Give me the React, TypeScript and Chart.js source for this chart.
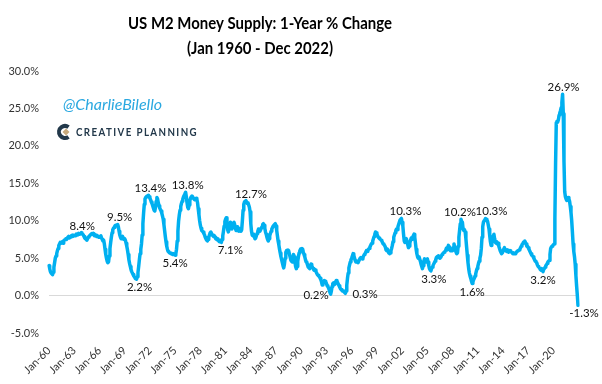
import React, { useEffect, useRef } from 'react';
import { Chart, registerables } from 'chart.js';

Chart.register(...registerables);

// ---------------- DATA ----------------
const startYear = 1960;
const monthNames = ['Jan', 'Feb', 'Mar', 'Apr', 'May', 'Jun', 'Jul', 'Aug', 'Sep', 'Oct', 'Nov', 'Dec'];

// US M2 money supply, 1-year % change, monthly
const m2_1960s = [
  4.0, 3.6, 3.2, 3.0, 2.9, 2.8, 3.1, 3.8, 4.4, 5.0, 5.3, 5.6,
  6.0, 6.3, 6.7, 6.9, 7.1, 7.0, 7.1, 7.2, 7.0, 7.3, 7.4, 7.5,
  7.6, 7.5, 7.7, 7.8, 7.9, 7.7, 7.8, 7.9, 8.0, 7.9, 8.1, 8.0,
  8.0, 8.1, 8.0, 8.2, 8.1, 8.2, 8.3, 8.2, 8.3, 8.3, 8.4, 8.3,
  8.2, 8.1, 7.9, 7.7, 7.6, 7.5, 7.4, 7.6, 7.8, 7.9, 8.0, 8.1,
  8.2, 8.3, 8.2, 8.3, 8.1, 8.0, 8.1, 8.0, 7.9, 8.0, 7.9, 7.8,
  7.8, 7.9, 8.0, 7.7, 7.5, 7.3, 7.4, 6.9, 6.2, 5.5, 5.0, 4.6,
  4.4, 4.5, 5.3, 6.3, 7.1, 7.8, 8.4, 8.8, 9.0, 9.1, 9.3, 9.4,
  9.4, 9.4, 9.5, 9.2, 8.6, 8.1, 7.8, 7.6, 7.7, 7.9, 7.6, 7.5,
  7.6, 7.4, 7.0, 6.6, 6.1, 5.5, 4.8, 4.3, 3.9, 3.5, 3.2, 3.0,
];
const m2_1970s = [
  2.8, 2.6, 2.5, 2.3, 2.3, 2.2, 2.5, 3.1, 3.9, 4.8, 5.6, 6.2,
  6.9, 8.1, 9.6, 11.0, 12.2, 12.9, 13.1, 13.2, 13.3, 13.2, 13.4, 13.2,
  13.0, 12.8, 12.5, 12.3, 12.0, 11.7, 11.4, 11.3, 11.8, 12.6, 13.1, 12.9,
  12.4, 12.0, 11.7, 11.5, 11.3, 11.0, 10.6, 10.2, 9.5, 8.7, 7.9, 7.2,
  6.6, 6.2, 5.9, 5.8, 5.7, 5.7, 5.6, 5.6, 5.5, 5.6, 5.5, 5.5,
  5.4, 5.6, 6.2, 7.3, 8.6, 10.0, 10.8, 11.4, 11.9, 12.3, 12.6, 12.9,
  13.2, 13.4, 13.6, 13.8, 13.2, 12.4, 11.8, 11.6, 12.1, 12.7, 13.0, 13.2,
  13.3, 13.2, 13.0, 12.9, 12.8, 12.9, 13.0, 12.9, 12.4, 11.6, 10.8, 10.0,
  9.4, 9.0, 8.7, 8.6, 8.5, 8.3, 8.1, 7.8, 7.6, 7.4, 7.3, 7.5,
  7.8, 8.1, 8.4, 8.5, 8.3, 8.1, 8.0, 7.9, 8.0, 7.8, 7.6, 7.5,
];
const m2_1980s = [
  7.6, 7.4, 7.3, 7.2, 7.4, 7.2, 7.1, 7.5, 8.0, 8.6, 9.3, 9.9,
  10.2, 10.4, 9.6, 8.8, 8.5, 8.9, 9.4, 9.8, 9.4, 8.9, 9.2, 9.6,
  9.8, 9.5, 9.0, 8.7, 8.8, 9.2, 9.0, 8.6, 8.8, 8.9, 8.6, 8.8,
  10.0, 11.4, 12.2, 12.5, 12.6, 12.7, 12.5, 12.3, 12.4, 12.1, 11.8, 11.2,
  9.6, 8.6, 8.1, 8.0, 8.2, 7.9, 7.6, 7.7, 8.0, 8.3, 8.6, 8.9,
  8.7, 8.6, 8.8, 9.0, 9.2, 9.5, 9.6, 9.4, 9.0, 8.5, 8.2, 7.8,
  7.5, 7.3, 7.6, 8.0, 8.3, 8.6, 8.9, 9.1, 9.3, 9.4, 9.5, 9.6,
  9.3, 8.7, 8.0, 7.3, 6.8, 6.2, 5.7, 5.2, 4.8, 4.4, 4.0, 3.7,
  4.2, 5.0, 5.8, 6.0, 5.9, 6.1, 6.0, 5.6, 5.2, 4.8, 4.6, 4.5,
  4.9, 5.5, 5.2, 4.5, 3.9, 3.6, 3.9, 4.6, 5.2, 5.7, 6.0, 6.2,
];
const m2_1990s = [
  6.0, 6.3, 6.2, 5.8, 5.5, 5.2, 4.8, 4.5, 4.4, 4.1, 3.8, 3.7,
  3.6, 3.9, 4.2, 4.0, 3.8, 3.6, 3.4, 3.5, 3.4, 3.2, 3.0, 2.8,
  2.7, 2.6, 2.5, 2.3, 2.1, 1.8, 1.4, 1.6, 1.8, 2.0, 1.9, 1.8,
  1.6, 1.3, 1.2, 1.0, 0.7, 0.4, 0.2, 0.6, 1.2, 1.6, 1.7, 1.6,
  1.5, 1.8, 2.0, 1.9, 1.7, 1.5, 1.3, 1.1, 0.9, 0.8, 0.7, 0.6,
  0.6, 0.5, 0.4, 0.3, 0.6, 1.4, 2.3, 3.0, 3.7, 4.1, 4.5, 4.8,
  5.0, 5.3, 5.6, 5.4, 5.0, 4.7, 4.5, 4.6, 4.5, 4.4, 4.6, 4.8,
  5.0, 5.1, 5.0, 4.9, 5.1, 5.3, 5.5, 5.6, 5.8, 6.0, 5.9, 6.0,
  6.2, 6.3, 6.5, 6.7, 6.9, 7.0, 7.3, 7.6, 7.9, 8.2, 8.5, 8.4,
  8.2, 8.0, 7.8, 7.7, 7.6, 7.5, 7.4, 7.3, 7.1, 6.9, 6.8, 6.7,
];
const m2_2000s = [
  6.5, 6.1, 6.0, 6.2, 5.9, 5.7, 5.6, 5.7, 6.0, 6.3, 6.7, 7.2,
  7.8, 8.1, 8.4, 8.7, 8.9, 8.8, 9.2, 9.5, 9.8, 10.1, 10.2, 10.3,
  9.8, 9.3, 8.2, 7.3, 7.1, 7.5, 7.6, 7.2, 6.8, 6.4, 6.6, 7.0,
  7.4, 7.7, 7.5, 7.8, 8.0, 8.2, 7.8, 7.0, 6.2, 5.6, 5.2, 5.0,
  5.2, 4.9, 4.6, 4.2, 3.9, 3.6, 4.0, 4.6, 4.9, 4.7, 4.5, 4.8,
  4.9, 4.5, 4.0, 3.6, 3.4, 3.3, 3.6, 3.8, 4.0, 4.2, 4.4, 4.6,
  4.8, 5.1, 5.2, 5.1, 5.3, 5.2, 5.0, 5.1, 5.3, 5.5, 5.6, 5.7,
  5.8, 5.9, 6.0, 6.3, 6.1, 6.4, 6.7, 6.5, 6.2, 6.0, 6.1, 6.0,
  6.0, 6.4, 6.9, 6.5, 6.1, 5.8, 5.6, 5.7, 6.6, 7.8, 8.7, 9.6,
  10.2, 9.9, 9.8, 8.9, 8.7, 8.8, 8.5, 7.6, 6.5, 5.4, 4.4, 3.6,
];
const m2_2010s = [
  3.0, 2.6, 2.3, 1.9, 1.6, 1.8, 2.1, 2.3, 2.6, 2.9, 3.3, 3.6,
  3.9, 4.3, 4.6, 5.0, 5.4, 6.3, 7.8, 9.2, 9.8, 10.0, 10.1, 10.3,
  10.2, 10.1, 9.9, 9.4, 8.9, 8.0, 7.2, 6.7, 7.0, 7.6, 8.0, 8.2,
  7.6, 7.1, 7.0, 7.2, 6.9, 7.0, 6.6, 6.3, 6.0, 5.8, 5.6, 5.7,
  6.0, 6.2, 6.4, 6.1, 6.0, 5.9, 6.1, 6.0, 5.8, 5.9, 6.0, 5.9,
  5.8, 5.7, 5.6, 5.7, 5.6, 5.7, 5.6, 5.8, 5.9, 5.9, 6.0, 6.1,
  6.2, 6.4, 6.6, 6.8, 6.9, 7.1, 7.2, 7.3, 7.1, 6.9, 6.6, 6.6,
  6.4, 6.2, 6.0, 5.8, 5.6, 5.4, 5.3, 5.2, 5.0, 4.8, 4.6, 4.5,
  4.4, 4.1, 3.9, 3.8, 3.7, 3.5, 3.4, 3.6, 3.4, 3.2, 3.5, 3.6,
  3.8, 4.0, 4.1, 4.3, 4.5, 4.6, 4.7, 5.5, 6.3, 6.5, 6.6, 6.7,
];
const m2_2020s = [
  6.8, 6.9, 10.3, 17.6, 23.1, 23.3, 23.2, 23.5, 24.1, 24.4, 24.7, 25.1,
  25.8, 26.9, 24.3, 17.9, 13.9, 13.2, 12.9, 12.7, 12.9, 13.1, 12.9, 12.6,
  11.9, 11.1, 10.0, 8.5, 6.9, 5.9, 5.2, 4.2, 2.7, 1.3, 0.1, -1.3,
];

const tickLabels = [
  'Jan-60', 'Jan-63', 'Jan-66', 'Jan-69', 'Jan-72', 'Jan-75', 'Jan-78', 'Jan-81',
  'Jan-84', 'Jan-87', 'Jan-90', 'Jan-93', 'Jan-96', 'Jan-99', 'Jan-02', 'Jan-05',
  'Jan-08', 'Jan-11', 'Jan-14', 'Jan-17', 'Jan-20',
];

// months (index from Jan 1960) carrying a value label
const labelledMonths = [46, 98, 125, 142, 180, 195, 246, 281, 402, 423, 503, 545, 588, 604, 623, 705, 733, 755];

const titleLines = ['US M2 Money Supply: 1-Year % Change', '(Jan 1960 - Dec 2022)'];
const handleText = '@CharlieBilello';
const logoText = 'CREATIVE PLANNING';

// ---------------- DERIVED ----------------
const values: number[] = [
  ...m2_1960s, ...m2_1970s, ...m2_1980s, ...m2_1990s, ...m2_2000s, ...m2_2010s, ...m2_2020s,
];
const labels: string[] = values.map((_, i) => {
  const y = startYear + Math.floor(i / 12);
  return monthNames[i % 12] + '-' + String(y % 100).padStart(2, '0');
});

// ---------------- STYLE ----------------
const FONT = 'Lato, "Open Sans", sans-serif';
const LINE_COLOR = '#00B0F0';
// placement of each value label (same order as labelledMonths)
const labelPlacement: { side: 'above' | 'below' | 'left' | 'right'; dx: number }[] = [
  { side: 'above', dx: 1 },
  { side: 'above', dx: 2 },
  { side: 'below', dx: 3 },
  { side: 'above', dx: 2 },
  { side: 'below', dx: 0 },
  { side: 'above', dx: 2 },
  { side: 'below', dx: 9 },
  { side: 'above', dx: 5 },
  { side: 'left', dx: -2 },
  { side: 'right', dx: 7 },
  { side: 'above', dx: 4 },
  { side: 'below', dx: 3 },
  { side: 'above', dx: -1 },
  { side: 'below', dx: 0 },
  { side: 'above', dx: 6 },
  { side: 'below', dx: 0 },
  { side: 'above', dx: 1 },
  { side: 'below', dx: 6 },
];

const decorPlugin = {
  id: 'decor',
  afterDraw(chart: any) {
    const ctx = chart.ctx as CanvasRenderingContext2D;
    const xs = chart.scales.x;
    const ys = chart.scales.y;
    ctx.save();

    // title
    ctx.fillStyle = '#000';
    ctx.textAlign = 'center';
    ctx.textBaseline = 'alphabetic';
    ctx.font = 'bold 17px ' + FONT;
    ctx.fillText(titleLines[0], 260, 29, 264);
    ctx.fillText(titleLines[1], 260, 54, 146);

    // handle
    ctx.textAlign = 'left';
    ctx.fillStyle = '#2AA8E0';
    ctx.font = 'italic 16px ' + FONT;
    ctx.fillText(handleText, 63, 110, 107);

    // logo icon
    ctx.strokeStyle = '#22384A';
    ctx.lineWidth = 4;
    ctx.beginPath();
    ctx.arc(65, 132, 6, Math.PI * 0.3, Math.PI * 1.7);
    ctx.stroke();
    ctx.fillStyle = '#C7A97C';
    ctx.beginPath();
    ctx.moveTo(66, 128.5);
    ctx.lineTo(69.5, 132);
    ctx.lineTo(66, 135.5);
    ctx.lineTo(62.5, 132);
    ctx.closePath();
    ctx.fill();
    // logo text
    ctx.fillStyle = '#22384A';
    ctx.font = 'bold 11px ' + FONT;
    (ctx as any).letterSpacing = '1.6px';
    ctx.fillText(logoText, 76, 136, 122);
    (ctx as any).letterSpacing = '0px';

    // value labels
    ctx.fillStyle = '#111';
    ctx.font = '11.5px ' + FONT;
    labelledMonths.forEach((m, i) => {
      const v = values[m];
      const px = xs.getPixelForValue(m);
      const py = ys.getPixelForValue(v);
      const txt = v.toFixed(1) + '%';
      const p = labelPlacement[i];
      if (p.side === 'above') {
        ctx.textAlign = 'center';
        ctx.fillText(txt, px + p.dx, py - 3);
      } else if (p.side === 'below') {
        ctx.textAlign = 'center';
        ctx.fillText(txt, px + p.dx, py + 12);
      } else if (p.side === 'left') {
        ctx.textAlign = 'right';
        ctx.fillText(txt, px + p.dx, py + 5);
      } else {
        ctx.textAlign = 'left';
        ctx.fillText(txt, px + p.dx, py + 5);
      }
    });
    ctx.restore();
  },
};

export default function App() {
  const ref = useRef<HTMLCanvasElement | null>(null);

  useEffect(() => {
    if (!ref.current) return;
    const chart = new Chart(ref.current, {
      type: 'line',
      data: {
        labels,
        datasets: [
          {
            data: values,
            borderColor: LINE_COLOR,
            borderWidth: 3.5,
            pointRadius: 0,
            tension: 0,
            fill: false,
            borderJoinStyle: 'round',
            borderCapStyle: 'round',
          },
        ],
      },
      options: {
        responsive: false,
        animation: false,
        devicePixelRatio: 1,
        layout: { padding: { top: 71, right: 24, left: 0, bottom: 0 } },
        plugins: {
          legend: { display: false },
          tooltip: { enabled: false },
          title: { display: false },
        },
        scales: {
          x: {
            type: 'category',
            offset: false,
            grid: { display: false, drawTicks: false },
            border: { display: false },
            ticks: {
              autoSkip: false,
              maxRotation: 45,
              minRotation: 45,
              padding: 11,
              color: '#333',
              font: { family: FONT, size: 11 },
              callback: (_v: any, i: number) => (tickLabels.includes(labels[i]) ? labels[i] : ''),
            },
            afterFit: (s: any) => {
              s.height = 51;
            },
          },
          y: {
            min: -5,
            max: 30,
            grid: {
              drawTicks: false,
              lineWidth: 1,
              color: (c: any) => (c.tick && c.tick.value === 0 ? '#D9D9D9' : 'rgba(0,0,0,0)'),
            },
            border: { display: false },
            ticks: {
              stepSize: 5,
              padding: 10,
              color: '#333',
              font: { family: FONT, size: 11 },
              callback: (v: any) => Number(v).toFixed(1) + '%',
            },
            afterFit: (s: any) => {
              s.width = 49;
            },
          },
        },
      } as any,
      plugins: [decorPlugin],
    });
    return () => chart.destroy();
  }, []);

  return (
    <div style={{ position: 'fixed', left: 0, top: 0, width: 602, height: 384, background: '#fff' }}>
      <canvas ref={ref} width={602} height={384} style={{ display: 'block' }} />
    </div>
  );
}
